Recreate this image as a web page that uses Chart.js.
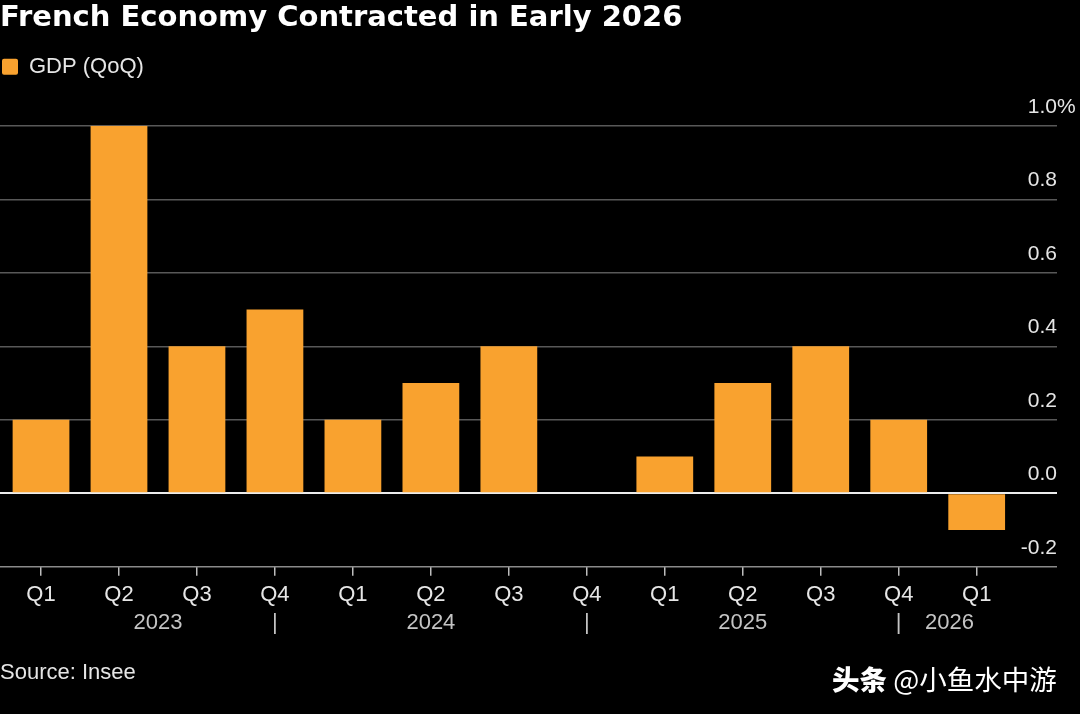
<!DOCTYPE html>
<html>
<head>
<meta charset="utf-8">
<script src="https://cdn.jsdelivr.net/npm/chart.js@4"></script>
<style>
  html, body { margin: 0; padding: 0; background: #000; }
  #wrap { position: relative; width: 1080px; height: 714px; background: #000; overflow: hidden; }
  canvas { display: block; }
  #mark { position: absolute; left: 832px; top: 658px; font-family: "Noto Sans CJK SC", sans-serif; font-size: 27.5px; color: #fff; white-space: nowrap; }
  #mark b { font-weight: 900; }
</style>
</head>
<body>
<div id="wrap">
  <canvas id="c" width="1080" height="714"></canvas>
  <div id="mark"><b>头条</b> @小鱼水中游</div>
</div>
<script>
const quarters = ['Q1','Q2','Q3','Q4','Q1','Q2','Q3','Q4','Q1','Q2','Q3','Q4','Q1'];
const gdpQoQ = [0.2, 1.0, 0.4, 0.5, 0.2, 0.3, 0.4, 0.0, 0.1, 0.3, 0.4, 0.2, -0.1];
const yearLabels = ['2023', '|', '2024', '|', '2025', '|', '2026'];
const yearLabelAt = [1.5, 3, 5, 7, 9, 11, 11.65];
const yTickValues = [-0.2, 0, 0.2, 0.4, 0.6, 0.8, 1.0];

const FONT = '"Liberation Sans", Arial, sans-serif';
const Y_LABEL_OFFSET = -19;

const legendMargin = {
  id: 'legendMargin',
  beforeInit(chart) {
    const origFit = chart.legend.fit;
    chart.legend.fit = function () {
      origFit.bind(chart.legend)();
      this.height += 38;
    };
  }
};

const percentSign = {
  id: 'percentSign',
  afterDraw(chart) {
    const y = chart.scales.y;
    const ctx = chart.ctx;
    ctx.save();
    ctx.font = '21px ' + FONT;
    ctx.fillStyle = '#e6e6e6';
    ctx.textAlign = 'left';
    ctx.textBaseline = 'middle';
    ctx.fillText('%', chart.chartArea.right, y.getPixelForValue(yTickValues[yTickValues.length - 1]) + Y_LABEL_OFFSET);
    ctx.restore();
  }
};

new Chart(document.getElementById('c'), {
  type: 'bar',
  data: {
    datasets: [{
      label: 'GDP (QoQ)',
      data: gdpQoQ.map((v, i) => ({ x: i, y: v })),
      backgroundColor: '#F9A22F',
      borderWidth: 0,
      barPercentage: 0.91,
      categoryPercentage: 0.8
    }]
  },
  options: {
    responsive: false,
    animation: false,
    devicePixelRatio: 1,
    layout: { padding: { left: 0, right: 23, top: 0, bottom: 0 } },
    plugins: {
      title: {
        display: true,
        text: 'French Economy Contracted in Early 2026',
        align: 'start',
        color: '#ffffff',
        font: { family: '"DejaVu Sans", sans-serif', size: 29, weight: 'bold' },
        padding: { top: 1, bottom: 18 }
      },
      subtitle: {
        display: true,
        text: 'Source: Insee',
        position: 'bottom',
        align: 'start',
        color: '#e6e6e6',
        font: { family: FONT, size: 22 },
        padding: { top: 23, bottom: 28 }
      },
      legend: {
        display: true,
        position: 'top',
        align: 'start',
        labels: {
          color: '#e6e6e6',
          font: { family: FONT, size: 22 },
          boxWidth: 16,
          boxHeight: 16,
          padding: 2,
          useBorderRadius: true,
          borderRadius: 2
        }
      },
      tooltip: { enabled: false }
    },
    scales: {
      x: {
        type: 'linear',
        position: 'bottom',
        weight: 1,
        min: -0.526,
        max: 13.03,
        offset: false,
        afterBuildTicks(scale) { scale.ticks = quarters.map((q, i) => ({ value: i })); },
        afterFit(scale) { scale.height -= 4; },
        ticks: {
          autoSkip: false,
          maxRotation: 0,
          color: '#e6e6e6',
          font: { family: FONT, size: 22 },
          padding: 6,
          callback: (v) => quarters[v]
        },
        grid: { display: true, offset: false, drawOnChartArea: false, drawTicks: true, tickLength: 9, color: '#bdbdbd', lineWidth: 1.5 },
        border: { display: false }
      },
      x2: {
        type: 'linear',
        position: 'bottom',
        weight: 2,
        min: -0.526,
        max: 13.03,
        offset: false,
        afterBuildTicks(scale) { scale.ticks = yearLabelAt.map(v => ({ value: v })); },
        ticks: {
          autoSkip: false,
          maxRotation: 0,
          color: '#c4c4c4',
          font: { family: FONT, size: 22 },
          padding: 0,
          callback: (v, i) => yearLabels[i]
        },
        grid: { display: false, drawTicks: false, offset: false },
        border: { display: false }
      },
      y: {
        type: 'linear',
        position: 'right',
        min: -0.2,
        max: 1.0,
        afterBuildTicks(scale) { scale.ticks = yTickValues.map(v => ({ value: v })); },
        ticks: {
          mirror: true,
          padding: 0,
          labelOffset: Y_LABEL_OFFSET,
          color: '#e6e6e6',
          font: { family: FONT, size: 21 },
          callback: (v) => v.toFixed(1)
        },
        grid: {
          drawTicks: false,
          color: (c) => c.tick && Math.abs(c.tick.value) < 1e-9 ? '#ececec' : (c.tick && c.tick.value < -0.1 ? '#8a8a8a' : '#585858'),
          lineWidth: (c) => c.tick && Math.abs(c.tick.value) < 1e-9 ? 2 : 1.5
        },
        border: { display: false }
      }
    }
  },
  plugins: [legendMargin, percentSign]
});
</script>
</body>
</html>
